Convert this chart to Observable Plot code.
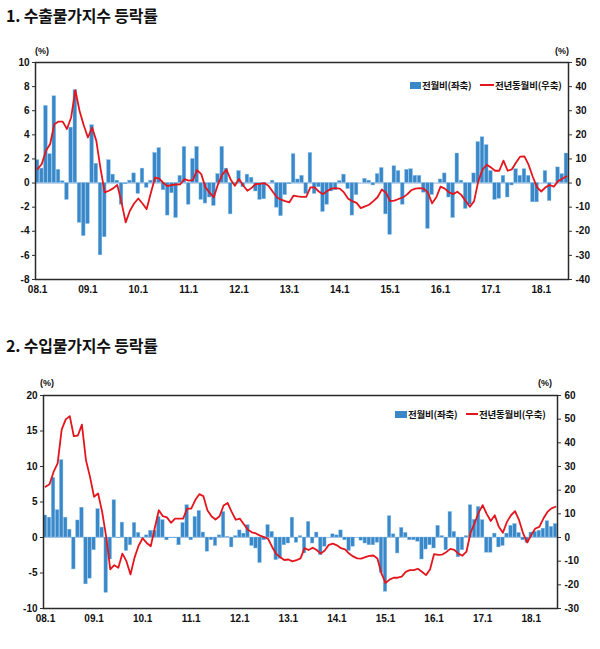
<!DOCTYPE html>
<html>
<head>
<meta charset="utf-8">
<script src="https://cdn.jsdelivr.net/npm/d3@7"></script>
<script src="https://cdn.jsdelivr.net/npm/@observablehq/plot@0.6"></script>
<style>
  html, body { margin: 0; padding: 0; background: #fff; }
  #root { position: relative; width: 600px; height: 649px; overflow: hidden; font-family: "Noto Sans CJK KR", "Noto Sans", sans-serif; color: #111; }
  .abs { position: absolute; white-space: nowrap; }
  .title { font-size: 16px; font-weight: 700; letter-spacing: -0.2px; }
  .unit { font-family: "Liberation Sans", Arial, sans-serif; font-size: 9px; font-weight: 700; }
  .leg { font-size: 9.5px; font-weight: 700; letter-spacing: -0.2px; line-height: 14px; }
  svg { position: absolute; left: 0; }
</style>
</head>
<body>
<div id="root">
  <div class="abs title" style="left:6px; top:3px;">1. 수출물가지수 등락률</div>
  <div class="abs unit" style="left:35px; top:46px;">(%)</div>
  <div class="abs unit" style="left:555px; top:46px;">(%)</div>
  <div class="abs" id="leg1b" style="left:410px; top:82px; width:11px; height:7px;"></div>
  <div class="abs leg" style="left:422px; top:78px;">전월비(좌축)</div>
  <div class="abs" id="leg1r" style="left:480px; top:84px; width:14px; height:2px;"></div>
  <div class="abs leg" style="left:495px; top:78px;">전년동월비(우축)</div>

  <div class="abs title" style="left:6px; top:333px;">2. 수입물가지수 등락률</div>
  <div class="abs unit" style="left:40px; top:378px;">(%)</div>
  <div class="abs unit" style="left:538px; top:378px;">(%)</div>
  <div class="abs" id="leg2b" style="left:395px; top:411px; width:12px; height:7px;"></div>
  <div class="abs leg" style="left:408px; top:407px;">전월비(좌축)</div>
  <div class="abs" id="leg2r" style="left:466px; top:413px; width:12px; height:2px;"></div>
  <div class="abs leg" style="left:479px; top:407px;">전년동월비(우축)</div>
</div>
<script>
// ---- Data (monthly, 2008.01 - 2018.07) ----
const nMonths = 127;
const months = [];
for (let i = 0; i < nMonths; i++) months.push(i);

const yearTickIdx = [0, 12, 24, 36, 48, 60, 72, 84, 96, 108, 120];
const yearTickLabels = ["08.1", "09.1", "10.1", "11.1", "12.1", "13.1", "14.1", "15.1", "16.1", "17.1", "18.1"];

// 수출물가 전월비 (%)
const exportMoM = [
  1.9, 1.2, 6.4, 2.4, 7.2, 1.1, 0.15, -1.4, 4.6, 7.7,
  -3.3, -4.4, -3.4, 4.8, 1.6, -6.0, -4.5, 1.9, 0.7, 0.2,
  -1.8, -0.1, 0.2, 0.8, -0.9, 1.2, -0.4, 0.2, 2.5, 2.9,
  -0.6, -2.7, -0.85, -2.9, 0.6, 3.0, -1.8, 2.0, 3.0, -1.4,
  -1.7, -1.2, -1.9, 0.75, 3.0, 1.2, -2.6, -0.1, 1.0, -0.35,
  0.7, 0.45, -0.7, -1.4, -1.35, 0, 0.2, -2.05, -2.75, -1.0,
  -0.1, 2.4, 0.3, 0.6, -0.9, 2.5, -0.9, -0.35, -2.4, -1.8,
  -0.7, -0.6, 0.17, 0.7, -0.5, -2.7, -1.0, 0, 0.35, 0.2,
  -0.2, 0.75, 1.25, -2.6, -4.3, 1.4, 1.0, -1.8, 1.1, 1.15,
  0.6, 0.6, -0.8, -3.8, -1.0, 0, 0.3, 0.8, -1.2, -2.9,
  2.45, 0.2, -2.15, -1.8, 0.8, 3.4, 3.8, 3.15, 1.0, -1.4,
  -1.3, 0.6, -1.2, -0.2, 1.15, 0.6, 1.15, 0.6, -1.6, -1.6,
  0, 1.0, -1.5, 0, 1.3, 0.75, 2.45
];
// 수출물가 전년동월비 (%)
const exportYoY = [
  5.8, 7.9, 13.4, 16.2, 24.4, 25.5, 25.5, 22.4, 27.2, 38.5,
  30, 24, 18.9, 23, 17.5, 6, -3.9, -3.2, -2.2, -0.8,
  -8, -16.3, -11.5, -8.5, -6.4, -8.5, -10.8, -4, 2.3, 1.8,
  0, -1.3, -0.8, -0.6, -0.5, 1.6, 1.0, 1.2, 5.4, 3.7,
  -1.8, -4, -5.9, -0.4, 3.5, 5.6, 1.5, -1.1, 1.7, -1,
  -3.2, -2, -0.4, -0.3, 0, -1.1, -3.5, -5.9, -6.9, -7.5,
  -8, -5.2, -5.5, -5.7, -5.7, -1.8, -1.8, -3.5, -4.6, -3.3,
  -2.3, -2.1, -2.3, -3.9, -6.5, -7.5, -8.2, -10.4, -9.7, -9.0,
  -7.5, -5.9, -2.7, -4.0, -7.5, -7.3, -6.6, -6.0, -4.8, -3.0,
  -2.3, -2.1, -2.3, -4.0, -8.4, -5.9, -1.5, -2.3, -3.8, -4.6,
  -3.6, -5.0, -7.5, -9.8, -7.5, 0.8, 5.5, 7.6, 6.5, 5.1,
  5.1, 9.3, 5.1, 5.7, 8.5, 11.0, 11.1, 7.5, 2.5, -1.8,
  -3.5, -1.8, -0.8, -1.5, 0.8, 1.8, 2.8
];
// 수입물가 전월비 (%)
const importMoM = [
  3.1, 2.8, 8.4, 3.85, 10.9, 2.8, 1.1, -4.5, 2.4, 4.2,
  -6.6, -5.8, -1.8, 4.0, 1.4, -7.8, -3.1, 5.25, -0.1, 2.1,
  -1.9, -1.1, 2.05, 0.65, -0.1, 0.3, 0.95, 0.95, 2.9, 2.45,
  -0.4, -0.1, -0.1, -1.1, 2.05, 4.55, -0.4, 2.9, 3.75, 0.7,
  -2.0, -0.4, -1.2, 0.3, 3.6, 0.1, -1.4, 0.2, 1.0, 0.55,
  1.75, -1.2, -1.55, -3.6, -0.4, 1.75, 0.8, -3.2, -3.0, -1.1,
  -0.85, 2.8, -0.75, 0.2, -2.25, 2.2, -0.85, 0.7, -2.5, -1.3,
  0, 0.45, 0.3, 1.0, -0.4, -1.9, -1.3, 0, -0.45, -0.85,
  -1.1, -1.1, -0.75, -5.0, -7.65, 3.0, 0.45, -2.25, 1.35, 0.65,
  -0.4, -0.4, -0.6, -3.1, -1.7, -1.1, -1.55, 1.65, 0.2, -1.8,
  3.6, 0.8, -2.8, -1.8, 0.2, 4.55, 2.5, 4.3, 2.45, -2.15,
  -2.15, 0.55, -1.4, -1.2, 0.55, 1.65, 1.9, 0.65, -0.4, -0.75,
  0.7, 0.8, 0.95, 1.25, 2.3, 1.5, 1.9
];
// 수입물가 전년동월비 (%)
const importYoY = [
  21.4, 22.5, 27.7, 31.3, 45.6, 49.9, 51.3, 42.8, 43.1, 47.7,
  32.7, 25.6, 17.2, 18.6, 10.8, 0.3, -13.5, -11.7, -12.8, -6.8,
  -10, -15.6, -8.5, -3.5, -0.3, -2.3, -3.7, 4.0, 11.5, 9.0,
  8.5, 6.2, 8.0, 8.0, 8.0, 12.2, 12.2, 15.8, 18.3, 17.5,
  11.5, 9.0, 7.6, 9.0, 13.5, 14.6, 10.8, 7.5, 8.0, 5.6,
  3.3, 2.2, 1.7, 0.8, 0.2, -0.6, -4.0, -7.0, -8.3, -9.5,
  -9.3, -10.1, -9.6, -8.8, -4.5, -5.3, -4.3, -5.3, -6.8, -5.5,
  -3.1, -2.6, -3.3, -4.5, -5.0, -6.8, -8.0, -8.8, -8.9, -8.3,
  -7.8, -7.6, -8.9, -15.2, -19.2, -17.8, -17.0, -17.0, -16.5, -14.5,
  -13.8, -13.8, -13.2, -14.5, -15.9, -13.5, -7.0, -7.3, -7.2, -6.2,
  -4.8, -5.2, -6.8, -7.7, -6.0, 2.0, 6.0, 10.5, 13.7, 10.0,
  7.0, 9.4, 4.5, 2.0, 6.6, 9.4, 11.1, 7.3, 1.7, -2.1,
  1.0, 3.8, 4.5, 8.0, 10.8, 12.3, 13.0
];

// axis ticks
const exportLeftTicks = [-8, -6, -4, -2, 0, 2, 4, 6, 8, 10];
const exportRightTicks = [-40, -30, -20, -10, 0, 10, 20, 30, 40, 50];
const importLeftTicks = [-10, -5, 0, 5, 10, 15, 20];
const importRightTicks = [-30, -20, -10, 0, 10, 20, 30, 40, 50, 60];

const BAR = "#3b88c9";
const BAR_EDGE = "#8ec4ec";
const RED = "#e3161d";

document.getElementById("leg1b").style.background = BAR;
document.getElementById("leg2b").style.background = BAR;
document.getElementById("leg1r").style.background = RED;
document.getElementById("leg2r").style.background = RED;

function panel({mom, yoy, leftDomain, leftTicks, rightTicks, ratio, width, height, mt, mb, ml, mr}) {
  const data = months.map(i => ({i, mom: mom[i], yoy: yoy[i]}));
  return Plot.plot({
    width, height,
    marginTop: mt, marginBottom: mb, marginLeft: ml, marginRight: mr,
    style: {fontFamily: "'Liberation Sans', Arial, sans-serif", fontSize: "10px", fontWeight: "bold", color: "#111", background: "transparent"},
    x: {type: "band", domain: months, paddingInner: 0.12, paddingOuter: 0.05, round: false, axis: null},
    y: {domain: leftDomain, axis: null},
    marks: [
      Plot.ruleY([0], {stroke: "#a8c3e2", strokeWidth: 1.2}),
      Plot.barY(data, {x: "i", y: "mom", fill: BAR, stroke: BAR_EDGE, strokeWidth: 0.4}),
      Plot.line(data, {x: "i", y: d => d.yoy / ratio, stroke: RED, strokeWidth: 1.8, curve: "linear"}),
      Plot.axisY({anchor: "left", label: null, ticks: leftTicks, tickSize: 3, tickPadding: 3, tickFormat: d => String(d), stroke: "#333"}),
      Plot.axisY({anchor: "right", label: null, ticks: rightTicks.map(r => r / ratio), tickSize: 3, tickPadding: 4,
                  tickFormat: d => String(Math.round(d * ratio)), stroke: "#333"}),
      Plot.axisX({anchor: "bottom", label: null, ticks: yearTickIdx, tickSize: 0, tickPadding: 6,
                  tickFormat: i => yearTickLabels[yearTickIdx.indexOf(i)]}),
      Plot.frame({stroke: "#2a2a2a", strokeWidth: 1.5})
    ]
  });
}

const p1 = panel({mom: exportMoM, yoy: exportYoY, leftDomain: [-8, 10], leftTicks: exportLeftTicks,
  rightTicks: exportRightTicks, ratio: 5, width: 600, height: 262, mt: 22, mb: 23, ml: 35, mr: 32});
p1.style.top = "40px";
const p2 = panel({mom: importMoM, yoy: importYoY, leftDomain: [-10, 20], leftTicks: importLeftTicks,
  rightTicks: importRightTicks, ratio: 3, width: 600, height: 270, mt: 25, mb: 32, ml: 43, mr: 43});
p2.style.top = "370px";

const root = document.getElementById("root");
root.appendChild(p1);
root.appendChild(p2);
</script>
</body>
</html>
